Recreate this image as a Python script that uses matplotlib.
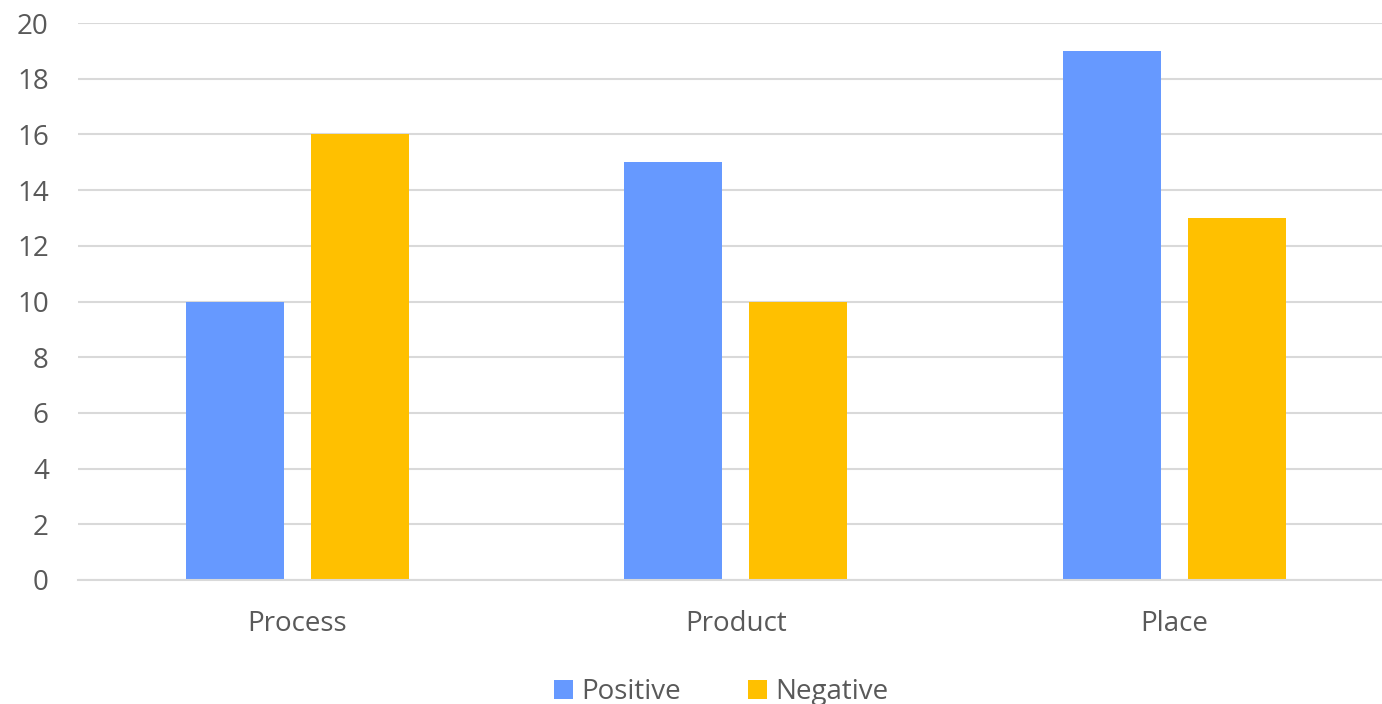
import matplotlib
matplotlib.use("Agg")
import matplotlib.pyplot as plt
import numpy as np

categories = ["Process", "Product", "Place"]
positive = [10, 15, 19]
negative = [16, 10, 13]
series_names = ["Positive", "Negative"]
y_ticks = [0, 2, 4, 6, 8, 10, 12, 14, 16, 18, 20]

plt.rcParams["font.family"] = ["Open Sans", "DejaVu Sans"]
text_color = "#595959"
grid_color = "#D9D9D9"
blue = "#6699FF"
gold = "#FFC000"

W, H = 1382, 704
fig = plt.figure(figsize=(W / 100, H / 100), dpi=100)
left_px, right_px = 78, 1393.5
top_px, bottom_px = 23, 580
ax = fig.add_axes([left_px / W, 1 - bottom_px / H,
                   (right_px - left_px) / W, (bottom_px - top_px) / H])

x = np.arange(len(categories))
bw = 0.2235
off = 0.1425
b1 = ax.bar(x - off, positive, bw, color=blue, label=series_names[0], zorder=3)
b2 = ax.bar(x + off, negative, bw, color=gold, label=series_names[1], zorder=3)

ax.set_xlim(-0.5, len(categories) - 0.5)
ax.set_ylim(0, 20)
ax.set_yticks(y_ticks)
ax.set_xticks(x)
ax.set_xticklabels(categories)
ax.tick_params(axis="both", length=0, colors=text_color, labelsize=20)
ax.tick_params(axis="x", pad=21.5)
ax.tick_params(axis="y", pad=21)
for lab in ax.get_yticklabels():
    lab.set_horizontalalignment("right")

ax.grid(axis="y", color=grid_color, linewidth=1.5, zorder=0)
for s in ["top", "right", "left"]:
    ax.spines[s].set_visible(False)
ax.spines["bottom"].set_color(grid_color)
ax.spines["bottom"].set_linewidth(1.5)
ax.spines["bottom"].set_zorder(4)

fig.legend(handles=[b1, b2], labels=series_names, loc="center",
           bbox_to_anchor=(721 / W, 1 - 692 / H), ncol=2, frameon=False,
           fontsize=20, labelcolor=text_color, handlelength=0.7,
           handleheight=0.7, handletextpad=0.3, columnspacing=2.4,
           borderaxespad=0, borderpad=0)

fig.savefig("out.png", dpi=100, facecolor="white")
